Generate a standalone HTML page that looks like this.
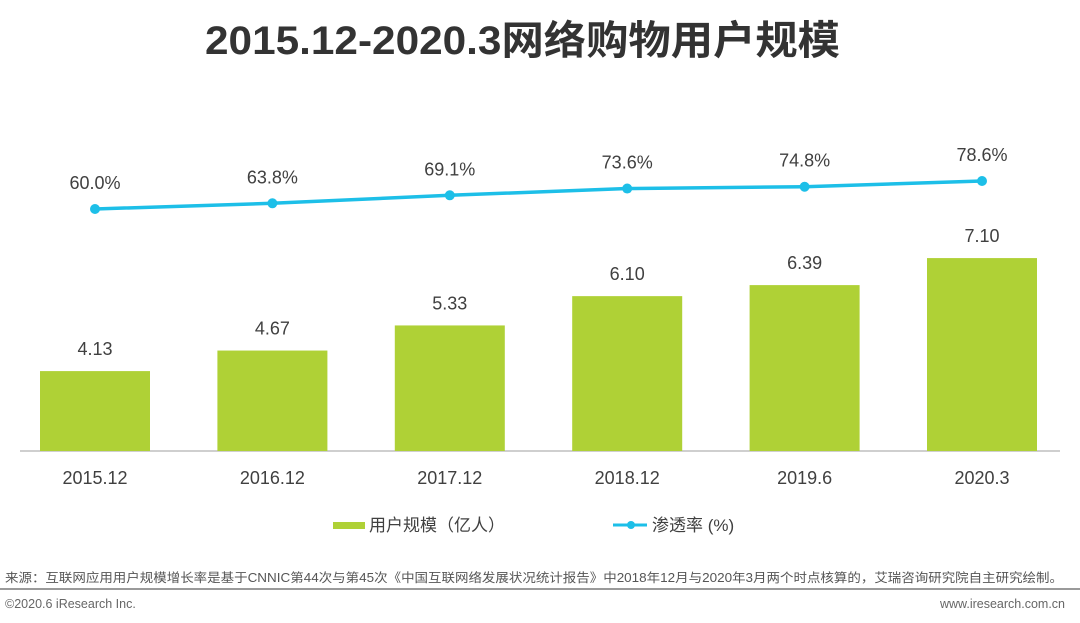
<!DOCTYPE html>
<html><head><meta charset="utf-8"><style>
html,body{margin:0;padding:0;background:#fff}
svg{display:block;font-family:"Liberation Sans","Noto Sans CJK SC",sans-serif}
</style></head><body>
<svg id="c" width="1080" height="623" viewBox="0 0 1080 623">
<text x="205" y="54" font-size="40" font-weight="bold" fill="#333" textLength="635" lengthAdjust="spacingAndGlyphs">2015.12-2020.3网络购物用户规模</text>
<line x1="20" y1="451" x2="1060" y2="451" stroke="#bfbfbf" stroke-width="1.5"/>
<g id="bars"></g><g id="line"></g><g id="xlabels"></g>
<g>
<rect x="333" y="522" width="32" height="7" fill="#afd136"/>
<text x="369" y="531" font-size="17" fill="#404040">用户规模（亿人）</text>
<line x1="613" y1="525" x2="647" y2="525" stroke="#1dbfe8" stroke-width="3"/>
<circle cx="631" cy="525" r="4" fill="#1dbfe8"/>
<text x="652" y="531" font-size="17" fill="#404040">渗透率 (%)</text>
</g>
<text x="5" y="582" font-size="12.5" fill="#555" textLength="1058" lengthAdjust="spacingAndGlyphs">来源：互联网应用用户规模增长率是基于CNNIC第44次与第45次《中国互联网络发展状况统计报告》中2018年12月与2020年3月两个时点核算的，艾瑞咨询研究院自主研究绘制。</text>
<line x1="0" y1="589" x2="1080" y2="589" stroke="#9a9a9a" stroke-width="2"/>
<text x="5" y="608" font-size="12.5" fill="#666">©2020.6 iResearch Inc.</text>
<text x="1065" y="608" font-size="12.5" fill="#666" text-anchor="end">www.iresearch.com.cn</text>
</svg>
<script>
const categories=["2015.12","2016.12","2017.12","2018.12","2019.6","2020.3"];
const users=[4.13,4.67,5.33,6.10,6.39,7.10];
const userLabels=["4.13","4.67","5.33","6.10","6.39","7.10"];
const rate=[60.0,63.8,69.1,73.6,74.8,78.6];
const rateLabels=["60.0%","63.8%","69.1%","73.6%","74.8%","78.6%"];
const NS="http://www.w3.org/2000/svg";
function xC(i){return 95+i*177.4;}
function yBar(v){return 451-38.05*(v-2.03);}
function yLine(p){return 209-1.505*(p-60);}
function mk(t,a,p,txt){const e=document.createElementNS(NS,t);for(const k in a)e.setAttribute(k,a[k]);if(txt!=null)e.textContent=txt;document.getElementById(p).appendChild(e);return e;}
categories.forEach((c,i)=>{
 const y=yBar(users[i]);
 const r=mk('rect',{x:xC(i)-55,y:y,width:110,height:451-y,fill:'#afd136'},'bars');
 
 
 const t=mk('text',{x:xC(i),y:y-16,'text-anchor':'middle','font-size':18,fill:'#404040'},'bars',userLabels[i]);
 
 
 const xl=mk('text',{x:xC(i),y:484,'text-anchor':'middle','font-size':18,fill:'#404040'},'xlabels',c);
 
 
});
const pts=rate.map((p,i)=>xC(i)+','+yLine(p)).join(' ');
const pl=mk('polyline',{points:pts,fill:'none',stroke:'#1dbfe8','stroke-width':3.5},'line');


rate.forEach((p,i)=>{
 const c=mk('circle',{cx:xC(i),cy:yLine(p),r:5,fill:'#1dbfe8'},'line');
 
 
 const t=mk('text',{x:xC(i),y:yLine(p)-20,'text-anchor':'middle','font-size':18,fill:'#404040'},'line',rateLabels[i]);
 
 
});
</script>
</body></html>
